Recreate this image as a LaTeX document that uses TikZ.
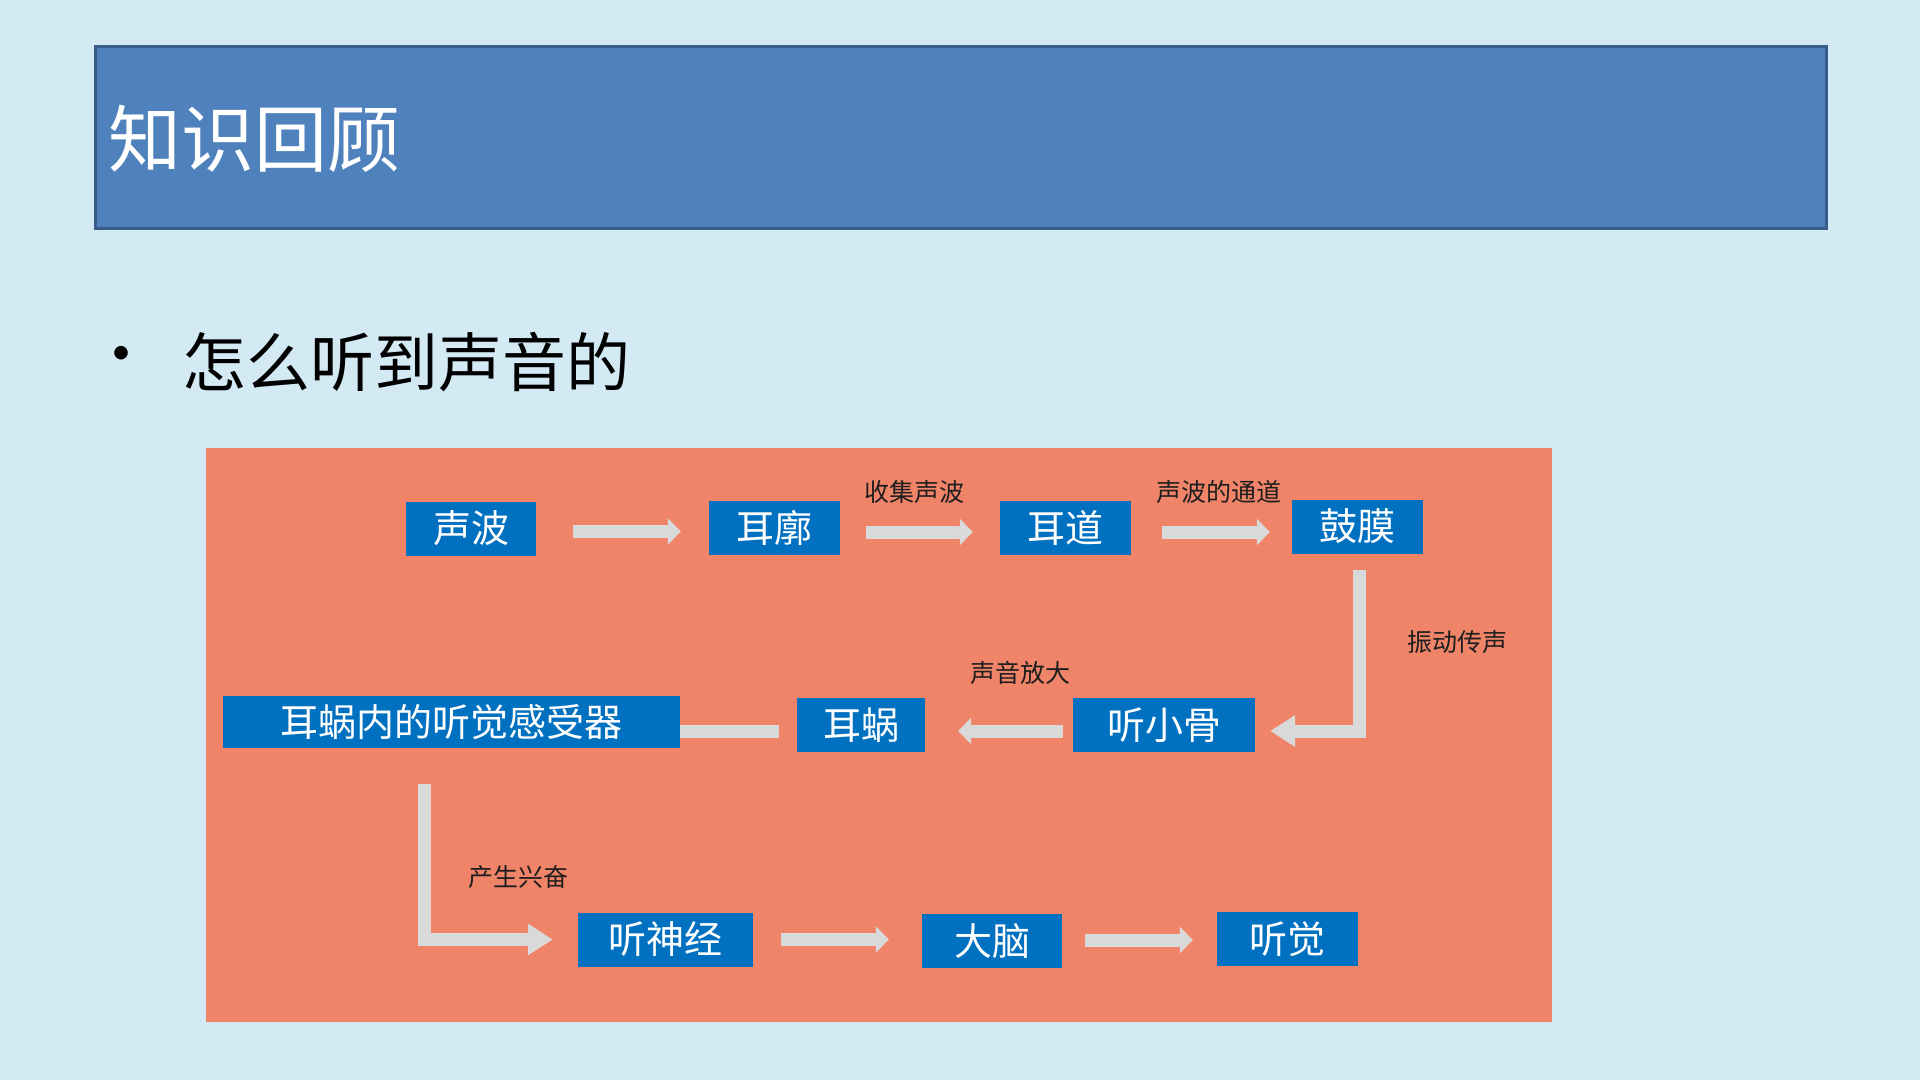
\documentclass[tikz,border=0pt]{standalone}
\usepackage{fontspec}
\setmainfont{Noto Sans CJK SC}
\usetikzlibrary{arrows.meta}
\definecolor{bgblue}{RGB}{211,234,245}
\definecolor{panelorange}{RGB}{239,132,104}
\definecolor{boxblue}{RGB}{0,112,192}
\definecolor{arrowgray}{RGB}{217,217,217}
\definecolor{titlefill}{RGB}{79,129,189}
\definecolor{titleline}{RGB}{56,93,138}
\definecolor{labeltext}{RGB}{30,30,30}
\begin{document}
\begin{tikzpicture}[x=1pt,y=-1pt,
  flowbox/.style={fill=boxblue, text=white, font=\fontsize{38}{40}\selectfont,
    minimum height=54pt, inner sep=0pt, anchor=center},
  blockarr/.style={draw=arrowgray, line width=13pt, line join=miter,
    -{Triangle[width=26pt,length=13pt]}},
  elbowarr/.style={draw=arrowgray, line width=13pt, line join=miter,
    -{Triangle[width=30pt,length=25pt]}},
  plainbar/.style={draw=arrowgray, line width=13pt},
  steplabel/.style={text=labeltext, font=\fontsize{25}{27}\selectfont, inner sep=0pt, anchor=center}
]
\fill[bgblue] (0,0) rectangle (1920,1080);
\useasboundingbox (0,0) rectangle (1920,1080);

% title bar
\node[draw=titleline, line width=3pt, fill=titlefill, minimum width=1731pt, minimum height=182pt,
      inner sep=0pt, anchor=north west] (titlebar) at (94,45) {};
\node[text=white, font=\fontsize{73}{80}\selectfont, inner sep=0pt, anchor=west] (titletext) at (108,139) {知识回顾};

% bullet line
\node[font=\fontsize{64}{70}\selectfont, inner sep=0pt, anchor=center] (bullet) at (121,362) {•};
\node[font=\fontsize{64}{70}\selectfont, inner sep=0pt, anchor=west] (question) at (182,362) {怎么听到声音的};

% panel
\node[fill=panelorange, minimum width=1346pt, minimum height=574pt, inner sep=0pt, anchor=north west] (panel) at (206,448) {};

% boxes
\node[flowbox, minimum width=130pt] (shengbo) at (471,528.5) {声波};
\node[flowbox, minimum width=131pt] (erkuo) at (774.5,528) {耳廓};
\node[flowbox, minimum width=131pt] (erdao) at (1065.5,528) {耳道};
\node[flowbox, minimum width=131pt] (gumo) at (1357.5,526.5) {鼓膜};
\node[flowbox, minimum width=457pt, minimum height=52pt] (ganshou) at (451.5,722) {耳蜗内的听觉感受器};
\node[flowbox, minimum width=128pt] (erwo) at (861,725) {耳蜗};
\node[flowbox, minimum width=182pt] (tingxiaogu) at (1164,725) {听小骨};
\node[flowbox, minimum width=175pt] (tingshenjing) at (665.5,939.5) {听神经};
\node[flowbox, minimum width=140pt] (danao) at (992,941) {大脑};
\node[flowbox, minimum width=141pt] (tingjue) at (1287.5,939) {听觉};

% arrows
\draw[blockarr] ([xshift=37pt,yshift=-3pt]shengbo.east) -- ([xshift=-28pt,yshift=-3.5pt]erkuo.west);
\draw[blockarr] ([xshift=26pt,yshift=-4pt]erkuo.east) -- ([xshift=-27pt,yshift=-4pt]erdao.west);
\draw[blockarr] ([xshift=31pt,yshift=-4pt]erdao.east) -- ([xshift=-22pt,yshift=-5.5pt]gumo.west);
\draw[elbowarr] ([xshift=1.5pt,yshift=-16pt]gumo.south) |- ([xshift=15pt,yshift=-6pt]tingxiaogu.east);
\draw[blockarr] ([xshift=-10pt,yshift=-6pt]tingxiaogu.west) -- ([xshift=33pt,yshift=-6pt]erwo.east);
\draw[plainbar] ([xshift=-18pt,yshift=-6pt]erwo.west) -- ([yshift=-9pt]ganshou.east);
\draw[elbowarr] ([xshift=-27.5pt,yshift=-36pt]ganshou.south) |- ([xshift=-25pt]tingshenjing.west);
\draw[blockarr] ([xshift=28pt]tingshenjing.east) -- ([xshift=-33pt,yshift=1.5pt]danao.west);
\draw[blockarr] ([xshift=23pt,yshift=1pt]danao.east) -- ([xshift=-24pt,yshift=-1pt]tingjue.west);

% labels
\node[steplabel] (lab1) at (914,492) {收集声波};
\node[steplabel] (lab2) at (1219,492) {声波的通道};
\node[steplabel] (lab3) at (1457,642) {振动传声};
\node[steplabel] (lab4) at (1020,673) {声音放大};
\node[steplabel] (lab5) at (518,877) {产生兴奋};
\end{tikzpicture}
\end{document}
